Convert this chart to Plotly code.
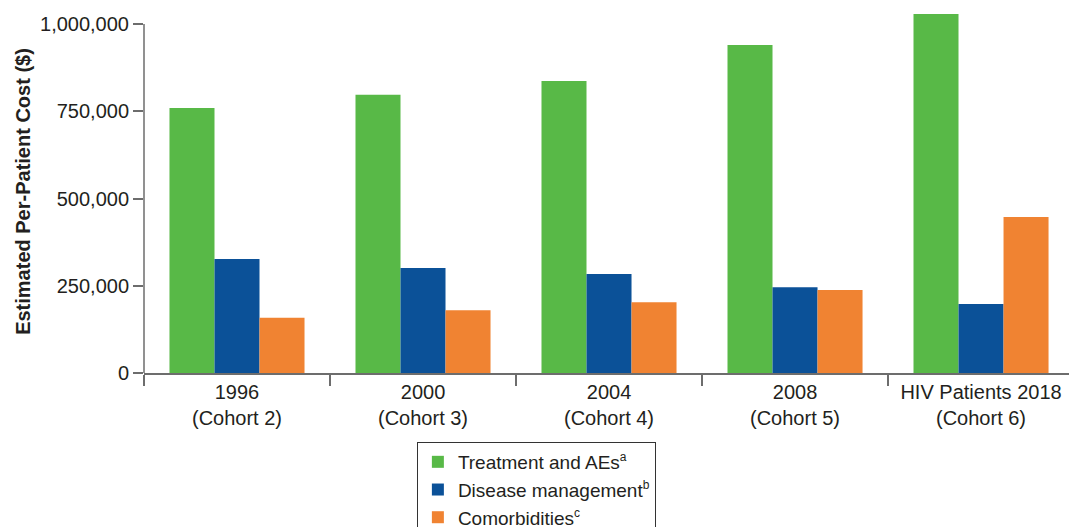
import plotly.graph_objects as go

categories = ["1996<br>(Cohort 2)", "2000<br>(Cohort 3)", "2004<br>(Cohort 4)",
              "2008<br>(Cohort 5)", "HIV Patients 2018<br>(Cohort 6)"]
treatment = [759000, 797000, 837000, 940000, 1029000]
disease_mgmt = [327000, 301000, 284000, 246000, 198000]
comorbidities = [158000, 180000, 203000, 238000, 447000]
SUP = '<sup><span style="font-size:12px">{}</span></sup>'
series_names = ["Treatment and AEs" + SUP.format("a"),
                "Disease management" + SUP.format("b"),
                "Comorbidities" + SUP.format("c")]
colors = ["#58B947", "#0B5198", "#F08332"]
y_ticks = [0, 250000, 500000, 750000, 1000000]

FONT = "Liberation Sans, Arial, Helvetica, sans-serif"
TEXT = "#231f20"
AXIS = "#6d6d6d"

fig = go.Figure()
for name, vals, col in zip(series_names, [treatment, disease_mgmt, comorbidities], colors):
    fig.add_trace(go.Bar(x=categories, y=vals, name=name, marker_color=col,
                         marker_line_width=0))

fig.update_layout(
    width=1069, height=527,
    margin=dict(l=144, r=0, t=10, b=154, autoexpand=False),
    paper_bgcolor="white", plot_bgcolor="white",
    barmode="group", bargap=0.274, bargroupgap=0,
    font=dict(family=FONT, size=20, color=TEXT),
    showlegend=True,
    legend=dict(x=0.295, y=-0.19, xanchor="left", yanchor="top",
                bgcolor="white", bordercolor="#333333", borderwidth=1,
                font=dict(size=19, color=TEXT), tracegroupgap=0,
                traceorder="normal", entrywidth=215, entrywidthmode="pixels"),
    xaxis=dict(range=[-0.5, 4.473], showline=True, linecolor=AXIS, linewidth=1.5,
               ticks="outside", tickson="boundaries", ticklen=11, tickcolor=AXIS,
               tickwidth=1.5, showgrid=False, tickfont=dict(size=20, color=TEXT),
               fixedrange=True),
    yaxis=dict(range=[0, 1040115], tickvals=y_ticks, tickformat=",",
               ticks="outside", ticklen=10, tickcolor=AXIS, tickwidth=1.5,
               showline=False, showgrid=False, zeroline=False,
               tickfont=dict(size=20, color=TEXT),
               title=dict(text="<b>Estimated Per-Patient Cost ($)</b>",
                          font=dict(size=20, color=TEXT), standoff=4)),
)

# y axis line up to the top tick only
fig.add_shape(type="line", xref="paper", yref="y", x0=0, x1=0,
              y0=y_ticks[0], y1=y_ticks[-1], line=dict(color=AXIS, width=1.5))

fig.write_html("out.html")
